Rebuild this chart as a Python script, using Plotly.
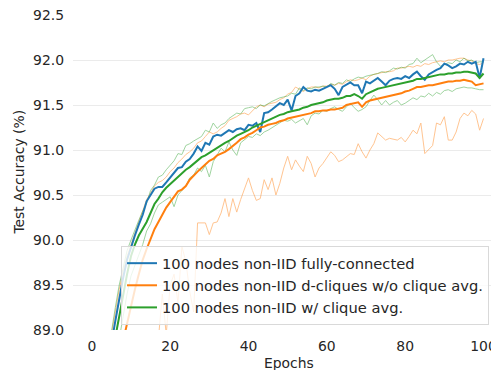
import plotly.graph_objects as go

epochs = list(range(1, 101))

fc_mean = [86.0, 87.2, 88.0, 88.5, 88.85, 89.1, 89.35, 89.58, 89.78, 89.92,
           90.05, 90.17, 90.28, 90.43, 90.5, 90.57, 90.59, 90.59, 90.64, 90.69,
           90.74, 90.8, 90.81, 90.87, 90.9, 90.96, 91.04, 90.99, 91.08, 91.06,
           91.15, 91.17, 91.16, 91.19, 91.22, 91.2, 91.23, 91.24, 91.22, 91.28,
           91.27, 91.3, 91.2, 91.41, 91.42, 91.45, 91.48, 91.52, 91.5, 91.56,
           91.44, 91.6, 91.63, 91.7, 91.66, 91.65, 91.67, 91.66, 91.68, 91.7,
           91.72, 91.68, 91.61, 91.7, 91.73, 91.75, 91.72, 91.72, 91.63, 91.76,
           91.74, 91.77, 91.8, 91.76, 91.72, 91.77, 91.79, 91.8, 91.79, 91.82,
           91.8, 91.84, 91.87, 91.82, 91.78, 91.84, 91.87, 91.89, 91.91, 91.96,
           91.94, 91.91, 91.93, 91.96, 91.95, 91.98, 91.96, 91.98, 91.8, 92.02]

noavg_mean = [84.5, 86.0, 87.0, 87.7, 88.1, 88.4, 88.65, 88.88, 89.08, 89.27,
              89.45, 89.62, 89.78, 89.9, 90.02, 90.12, 90.2, 90.28, 90.36, 90.42,
              90.48, 90.54, 90.56, 90.6, 90.67, 90.72, 90.76, 90.8, 90.84, 90.88,
              90.9, 90.94, 90.96, 90.98, 91.01, 91.04, 91.08, 91.12, 91.14, 91.17,
              91.19, 91.22, 91.25, 91.26, 91.28, 91.29, 91.3, 91.32, 91.33, 91.35,
              91.36, 91.37, 91.38, 91.39, 91.4, 91.41, 91.43, 91.43, 91.44, 91.44,
              91.45, 91.45, 91.46, 91.47, 91.5, 91.51, 91.52, 91.53, 91.48, 91.53,
              91.55, 91.56, 91.57, 91.58, 91.59, 91.6, 91.61, 91.62, 91.63, 91.65,
              91.66, 91.68, 91.7, 91.7, 91.71, 91.72, 91.72, 91.73, 91.74, 91.75,
              91.76, 91.76, 91.77, 91.77, 91.78, 91.77, 91.76, 91.72, 91.73, 91.74]

noavg_max = [86.2, 87.4, 88.1, 88.6, 88.95, 89.2, 89.45, 89.65, 89.82, 89.95,
             90.08, 90.2, 90.32, 90.45, 90.52, 90.6, 90.64, 90.66, 90.7, 90.76,
             90.8, 90.86, 90.9, 90.95, 90.98, 91.02, 91.08, 91.1, 91.15, 91.2,
             91.18, 91.2, 91.24, 91.27, 91.33, 91.35, 91.37, 91.4, 91.41, 91.39,
             91.44, 91.48, 91.5, 91.48, 91.51, 91.52, 91.53, 91.56, 91.58, 91.62,
             91.64, 91.7, 91.67, 91.65, 91.68, 91.7, 91.7, 91.69, 91.71, 91.71,
             91.73, 91.72, 91.74, 91.73, 91.76, 91.78, 91.77, 91.78, 91.8, 91.78,
             91.82, 91.84, 91.85, 91.86, 91.87, 91.87, 91.88, 91.91, 91.91, 91.92,
             91.93, 91.92, 91.94, 91.93, 91.96, 91.95, 91.97, 91.98, 91.99, 91.98,
             92.0, 92.0, 92.01, 92.02, 92.02, 92.0, 91.99, 91.96, 91.95, 91.97]

noavg_min = [80.0, 83.0, 84.5, 85.5, 86.3, 86.9, 87.3, 87.6, 87.9, 88.1,
             88.2, 88.4, 88.5, 88.45, 88.6, 88.7, 88.9, 89.4, 88.95, 89.5,
             89.62, 89.3, 89.93, 89.76, 89.43, 89.2, 90.19, 90.19, 90.19, 90.06,
             90.19, 90.2, 90.3, 90.46, 90.26, 90.46, 90.31, 90.45, 90.56, 90.69,
             90.55, 90.44, 90.46, 90.67, 90.56, 90.69, 90.5, 90.63, 90.8, 90.93,
             90.78, 90.89, 90.82, 90.76, 90.93, 90.85, 90.7, 90.8, 90.85, 90.92,
             90.98, 90.94, 90.87, 90.89, 90.92, 90.96, 90.95, 91.07, 90.98, 90.91,
             91.0, 91.07, 91.19, 91.15, 91.11, 91.13, 91.12, 91.11, 91.14, 91.09,
             91.15, 91.22, 91.18, 91.3, 90.96, 91.0, 91.05, 91.3, 91.28, 91.37,
             91.11, 91.11, 91.2, 91.35, 91.41, 91.38, 91.44, 91.4, 91.22, 91.35]

avg_mean = [85.5, 86.8, 87.7, 88.3, 88.65, 88.92, 89.15, 89.4, 89.62, 89.82,
            89.95, 90.05, 90.13, 90.2, 90.3, 90.4, 90.46, 90.53, 90.58, 90.62,
            90.67, 90.71, 90.74, 90.78, 90.81, 90.85, 90.88, 90.92, 90.94, 90.97,
            91.0, 91.03, 91.06, 91.08, 91.1, 91.13, 91.16, 91.18, 91.2, 91.22,
            91.25, 91.27, 91.29, 91.31, 91.33, 91.35, 91.37, 91.39, 91.4, 91.42,
            91.43, 91.44, 91.45, 91.47, 91.48, 91.5, 91.51, 91.52, 91.53, 91.55,
            91.56, 91.57, 91.57, 91.58, 91.6, 91.6, 91.62, 91.6, 91.57, 91.62,
            91.64, 91.66, 91.68, 91.69, 91.7, 91.71, 91.72, 91.73, 91.74, 91.75,
            91.76, 91.77, 91.79, 91.79, 91.8, 91.81, 91.82, 91.83, 91.84, 91.84,
            91.85, 91.85, 91.86, 91.86, 91.87, 91.87, 91.86, 91.85, 91.8, 91.85]

avg_max = [86.3, 87.5, 88.2, 88.7, 89.0, 89.25, 89.5, 89.7, 89.88, 90.0,
           90.12, 90.22, 90.32, 90.41, 90.55, 90.61, 90.7, 90.72, 90.78, 90.83,
           90.88, 90.96, 90.95, 91.05, 91.07, 91.1, 91.13, 91.15, 91.22, 91.2,
           91.3, 91.24, 91.28, 91.3, 91.35, 91.38, 91.41, 91.4, 91.46, 91.47,
           91.48, 91.46, 91.5, 91.49, 91.52, 91.54, 91.56, 91.58, 91.59, 91.6,
           91.63, 91.62, 91.69, 91.66, 91.69, 91.68, 91.7, 91.7, 91.71, 91.7,
           91.74, 91.72, 91.75, 91.74, 91.78, 91.76, 91.79, 91.81, 91.8, 91.82,
           91.83, 91.84, 91.85, 91.87, 91.86, 91.88, 91.91, 91.9, 91.92, 91.91,
           91.95, 91.96, 92.02, 91.97, 92.0, 92.03, 92.06, 91.98, 91.93, 91.95,
           91.97, 91.96, 92.0, 91.98, 92.02, 91.99, 92.0, 91.97, 91.98, 91.98]

avg_min = [84.8, 86.2, 87.2, 87.9, 88.35, 88.65, 88.9, 89.15, 89.4, 89.6,
           89.72, 89.83, 89.95, 90.1, 90.18, 90.3, 90.39, 90.42, 90.45, 90.48,
           90.37, 90.5, 90.55, 90.6, 90.69, 90.72, 90.8, 90.76, 90.83, 90.7,
           90.87, 90.95, 91.02, 90.98, 91.09, 91.0, 90.94, 91.08, 91.12, 91.15,
           91.14, 91.18, 91.16, 91.2, 91.22, 91.25, 91.28, 91.3, 91.33, 91.32,
           91.34, 91.3, 91.33, 91.35, 91.28, 91.38, 91.41, 91.4, 91.44, 91.43,
           91.46, 91.48, 91.45, 91.43, 91.48, 91.52, 91.47, 91.43, 91.45, 91.48,
           91.55, 91.61, 91.56, 91.5, 91.55, 91.5, 91.53, 91.55, 91.5, 91.52,
           91.55, 91.58, 91.56, 91.6, 91.59, 91.63, 91.6, 91.64, 91.62, 91.66,
           91.67, 91.65, 91.68, 91.69, 91.7, 91.69, 91.69, 91.68, 91.67, 91.67]

series_names = ["100 nodes non-IID fully-connected",
                "100 nodes non-IID d-cliques w/o clique avg.",
                "100 nodes non-IID w/ clique avg."]
colors = ["#1f77b4", "#ff7f0e", "#2ca02c"]
y_ticks = [89.0, 89.5, 90.0, 90.5, 91.0, 91.5, 92.0, 92.5]
x_ticks = [0, 20, 40, 60, 80, 100]

FONT = "DejaVu Sans"
TXT = "#262626"
fig = go.Figure()

thin = [(noavg_max, colors[1]), (noavg_min, colors[1]),
        (avg_max, colors[2]), (avg_min, colors[2])]
for ys, c in thin:
    fig.add_trace(go.Scatter(x=epochs, y=ys, mode="lines", showlegend=False,
                             line=dict(color=c, width=0.9), opacity=0.5,
                             hoverinfo="skip"))

for ys, name, c in zip([fc_mean, noavg_mean, avg_mean], series_names, colors):
    fig.add_trace(go.Scatter(x=epochs, y=ys, mode="lines", name=name,
                             line=dict(color=c, width=2)))

# the page body adds an 8px margin, so the figure is sized 8px smaller
fig.update_layout(
    width=491, height=362,
    margin=dict(l=65, r=0, t=7, b=40, autoexpand=False),
    paper_bgcolor="white", plot_bgcolor="white",
    font=dict(family=FONT, size=13.9, color=TXT),
    showlegend=True,
    legend=dict(x=0.1127, y=0.0155, xanchor="left", yanchor="bottom",
                bgcolor="rgba(255,255,255,0.8)", bordercolor="#d9d9d9",
                borderwidth=1, font=dict(family=FONT, size=14.7, color=TXT),
                itemwidth=30, tracegroupgap=0),
    annotations=[
        dict(text="Test Accuracy (%)", xref="paper", yref="paper",
             x=-0.129, y=0.5, xanchor="center", yanchor="middle",
             textangle=-90, showarrow=False, font=dict(size=13.9, color=TXT)),
        dict(text="Epochs", xref="paper", yref="paper",
             x=0.507, y=-0.105, xanchor="center", yanchor="middle",
             showarrow=False, font=dict(size=13.9, color=TXT)),
    ],
)
fig.update_xaxes(range=[-4.8, 103.95], tickvals=x_ticks, showgrid=False,
                 zeroline=False, showline=False, ticks="", automargin=False,
                 ticklabelstandoff=6, ticklabeloverflow="allow")
fig.update_yaxes(range=[89.0, 92.5], tickvals=y_ticks, tickformat=".1f",
                 showgrid=True, gridcolor="#ebebeb", gridwidth=1,
                 zeroline=False, showline=False, ticks="", automargin=False,
                 ticklabelstandoff=8, ticklabeloverflow="allow")

fig.write_html(
    "out.html",
    post_script="document.documentElement.style.overflow='hidden';"
                "document.body.style.overflow='hidden';",
)
